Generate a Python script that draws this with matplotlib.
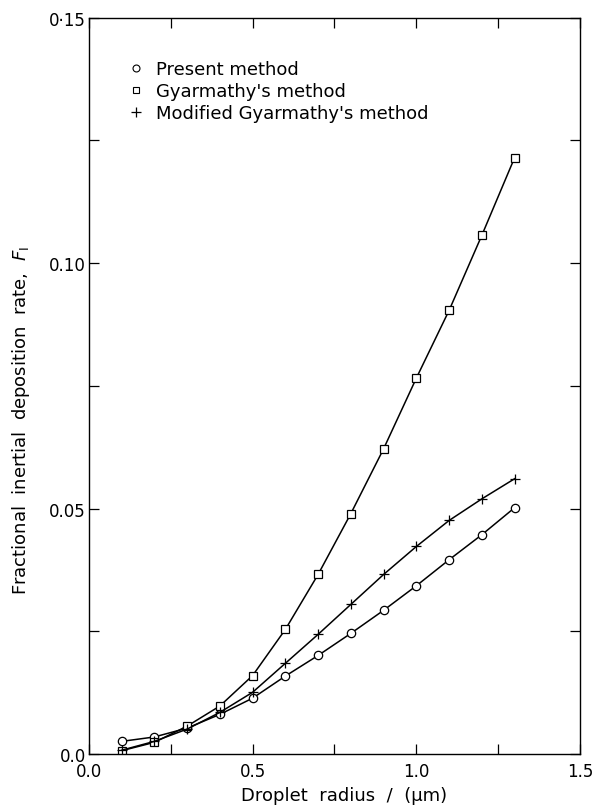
import matplotlib
matplotlib.use("Agg")
import matplotlib.pyplot as plt
from matplotlib.lines import Line2D
from matplotlib.ticker import MultipleLocator, FixedLocator, FixedFormatter

# ── Data ────────────────────────────────────────────────────────────────
radius = [0.1, 0.2, 0.3, 0.4, 0.5, 0.6, 0.7, 0.8, 0.9, 1.0, 1.1, 1.2, 1.3]
present = [0.0026, 0.0035, 0.0053, 0.0081, 0.0114, 0.0159, 0.0201,
           0.0246, 0.0293, 0.0343, 0.0396, 0.0447, 0.0502]
gyarmathy = [0.0007, 0.0024, 0.0057, 0.0098, 0.0160, 0.0254, 0.0366,
             0.0490, 0.0622, 0.0766, 0.0904, 0.1057, 0.1215]
modified = [0.0008, 0.0026, 0.0051, 0.0085, 0.0126, 0.0185, 0.0244,
            0.0305, 0.0366, 0.0423, 0.0476, 0.0520, 0.0561]

y_ticks = [0.0, 0.05, 0.10, 0.15]
y_labels = ["0.0", "0.05", "0.10", "0\u00b715"]
x_ticks = [0.0, 0.5, 1.0, 1.5]
x_labels = ["0.0", "0.5", "1.0", "1.5"]
legend_labels = ["Present method", "Gyarmathy's method",
                 "Modified Gyarmathy's method"]

plt.rcParams["font.family"] = "DejaVu Sans"

fig = plt.figure(figsize=(5.92, 8.12), dpi=100)
ax = fig.add_axes([0.150, 0.070, 0.830, 0.907])

line_kw = dict(color="black", linewidth=1.1)
ax.plot(radius, present, marker="o", markersize=6.0, markerfacecolor="white",
        markeredgewidth=0.9, **line_kw)
ax.plot(radius, gyarmathy, marker="s", markersize=5.6, markerfacecolor="white",
        markeredgewidth=0.9, **line_kw)
ax.plot(radius, modified, marker="+", markersize=6.5, markeredgewidth=0.9,
        **line_kw)

ax.set_xlim(0, 1.5)
ax.set_ylim(0, 0.15)

ax.xaxis.set_major_locator(FixedLocator(x_ticks))
ax.xaxis.set_major_formatter(FixedFormatter(x_labels))
ax.xaxis.set_minor_locator(MultipleLocator(0.25))
ax.yaxis.set_major_locator(FixedLocator(y_ticks))
ax.yaxis.set_major_formatter(FixedFormatter(y_labels))
ax.yaxis.set_minor_locator(MultipleLocator(0.025))

ax.tick_params(which="both", direction="in", top=True, right=True,
               length=7, width=0.9, labelsize=12)
ax.tick_params(axis="x", pad=6)
ax.tick_params(axis="y", pad=2)
for sp in ax.spines.values():
    sp.set_linewidth(1.0)

ax.set_xlabel("Droplet  radius  /  (\u03bcm)", fontsize=13)
ax.xaxis.set_label_coords(0.52, -0.043, transform=ax.transAxes)
ax.set_ylabel("Fractional  inertial  deposition  rate,  $F_\\mathregular{I}$",
              fontsize=13)
ax.yaxis.set_label_coords(-0.115, 0.454, transform=ax.transAxes)

# legend: markers only, no frame
handles = [
    Line2D([], [], color="black", marker="o", markersize=5, markerfacecolor="white",
           linestyle="none", markeredgewidth=0.8),
    Line2D([], [], color="black", marker="s", markersize=4.5, markerfacecolor="white",
           linestyle="none", markeredgewidth=0.8),
    Line2D([], [], color="black", marker="+", markersize=6.5,
           linestyle="none", markeredgewidth=0.9),
]
ax.legend(handles, legend_labels,
          loc="upper left", bbox_to_anchor=(0.077, 0.942), frameon=False,
          fontsize=13, handlelength=1.0, handletextpad=0.6, labelspacing=0.22,
          borderaxespad=0, borderpad=0)

fig.savefig("out.png", dpi=100)
